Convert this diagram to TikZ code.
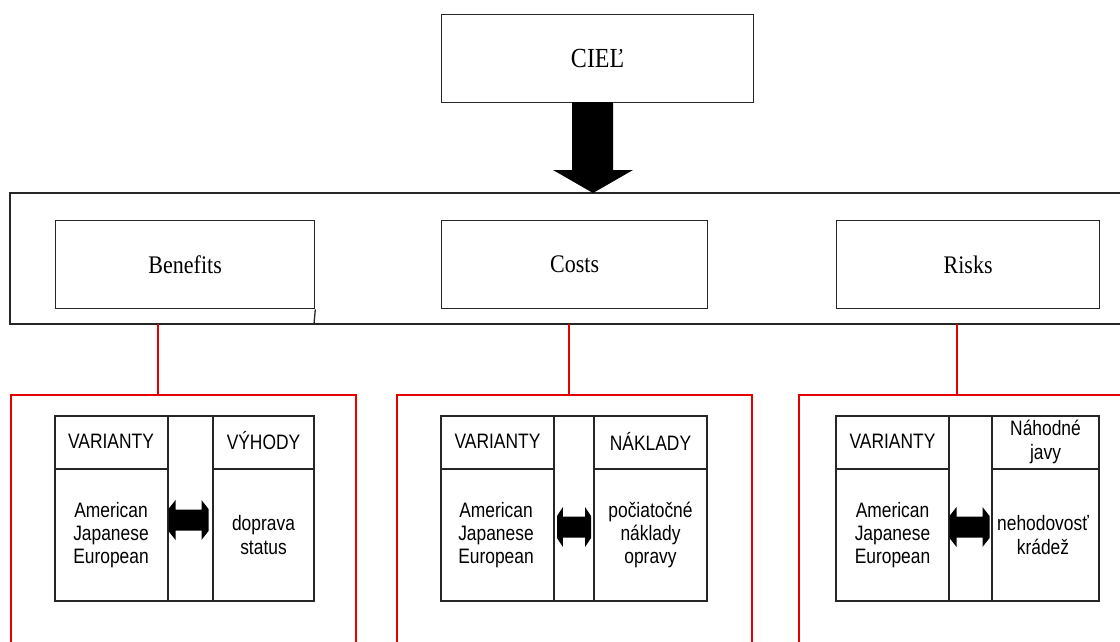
\documentclass[tikz,border=0pt]{standalone}
\usepackage{fontspec}
\setmainfont{Liberation Serif}
\newfontfamily\arialf{Liberation Sans}
\begin{document}
\begin{tikzpicture}[x=1pt,y=-1pt,
  blk/.style={draw=black!85, line width=1.3pt},
  redl/.style={draw=red!90!black, line width=1.2pt},
  sertext/.style={font=\fontsize{22}{26}\selectfont, yscale=1.15, transform shape, inner sep=0pt},
  sanstext/.style={font=\arialf\fontsize{17.4}{19.4}\selectfont, align=center, yscale=1.2, transform shape, inner sep=0pt},
  pics/dblarrow/.style={code={
    \fill[black] (-20,-11) -- (-13,-20) -- (-13,-10.5) -- (13,-10.5) -- (13,-20) -- (20,-11)
      -- (20,11) -- (13,20) -- (13,10.5) -- (-13,10.5) -- (-13,20) -- (-20,11) -- cycle;}}
]
\useasboundingbox (0,0) rectangle (1120,641);
\fill[white] (0,0) rectangle (1120,641);

% top goal box
\node[blk, minimum width=312pt, minimum height=88pt, anchor=north west, inner sep=0pt] (ciel) at (441,14) {};
\node[sertext, font=\fontsize{24}{28}\selectfont] (cieltxt) at (ciel.center) {CIEĽ};

% big frame
\draw[blk] (1125,193) -- (10,193) -- (10,324) -- (1125,324);
\coordinate (frametop) at (593,193);

% big arrow
\fill[black] (572,102) -- (613,102) -- (613,170) -- (633,170) -- (frametop) -- (553,170) -- (572,170) -- cycle;

% criteria boxes
\node[blk, minimum width=259pt, minimum height=88pt, anchor=north west, inner sep=0pt] (ben) at (55,220) {};
\node[blk, minimum width=266pt, minimum height=88pt, anchor=north west, inner sep=0pt] (cost) at (441,220) {};
\node[blk, minimum width=263pt, minimum height=88pt, anchor=north west, inner sep=0pt] (risk) at (836,220) {};
\draw[blk] (ben.south east) -- (314,324);
\node[sertext] (bentxt) at (ben.center) {Benefits};
\node[sertext] (costtxt) at (cost.center) {Costs};
\node[sertext] (risktxt) at (risk.center) {Risks};

% red connectors and red frames
\coordinate (rb) at (158,395);
\coordinate (rc) at (569,395);
\coordinate (rr) at (957,395);
\draw[redl] (158,324) -- (rb);
\draw[redl] (569,324) -- (rc);
\draw[redl] (957,324) -- (rr);
\draw[redl] (11,645) -- (11,395) -- (356,395) -- (356,645);
\draw[redl] (397,645) -- (397,395) -- (752,395) -- (752,645);
\draw[redl] (799,645) -- (799,395) -- (1125,395);

% tables
% Benefits
\draw[blk] (55,416) rectangle (314,601);
\draw[blk] (168,416) -- (168,601) (213,416) -- (213,601);
\draw[blk] (55,469) -- (168,469) (213,469) -- (314,469);
\node[sanstext] (b1) at (111,441) {VARIANTY};
\node[sanstext] (b2) at (263.5,441) {VÝHODY};
\node[sanstext] (b3) at (111,535) {American\\Japanese\\European};
\node[sanstext] (b4) at (263.5,535) {doprava\\status};
\pic at (188.5,520) {dblarrow};

% Costs
\draw[blk] (441,416) rectangle (707,601);
\draw[blk] (554,416) -- (554,601) (594,416) -- (594,601);
\draw[blk] (441,469) -- (554,469) (594,469) -- (707,469);
\node[sanstext] (c1) at (497.5,441) {VARIANTY};
\node[sanstext] (c2) at (650.5,441) {NÁKLADY};
\node[sanstext] (c3) at (496,535) {American\\Japanese\\European};
\node[sanstext] (c4) at (650.5,535) {počiatočné\\náklady\\opravy};
\pic[xscale=0.85] at (574,527) {dblarrow};

% Risks
\draw[blk] (836,416) rectangle (1099,601);
\draw[blk] (949,416) -- (949,601) (992,416) -- (992,601);
\draw[blk] (836,469) -- (949,469) (992,469) -- (1099,469);
\node[sanstext] (r1) at (892.5,441) {VARIANTY};
\node[sanstext] (r2) at (1045.5,442) {Náhodné\\javy};
\node[sanstext] (r3) at (892.5,535) {American\\Japanese\\European};
\node[sanstext] (r4) at (1043,535) {nehodovosť\\krádež};
\pic at (969.5,527) {dblarrow};
\end{tikzpicture}
\end{document}
